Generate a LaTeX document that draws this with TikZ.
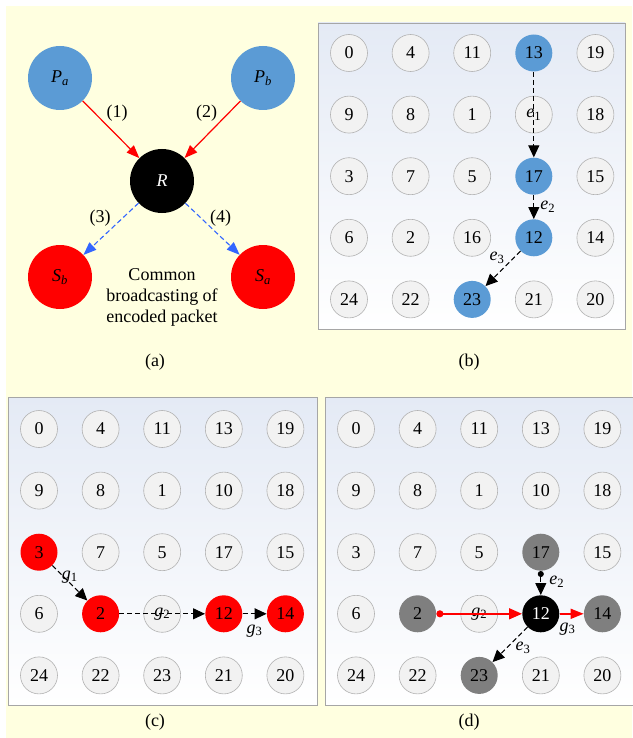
\documentclass[tikz,border=0pt]{standalone}
\usepackage{fontspec}
\setmainfont{Liberation Serif}
\usepackage{tikz}
\usetikzlibrary{shapes, arrows.meta, positioning}

\definecolor{paper}{HTML}{FFFFE0}
\definecolor{nodeblue}{HTML}{5B9BD5}
\definecolor{linkblue}{HTML}{3366FF}
\definecolor{lightcell}{HTML}{F2F2F2}
\definecolor{darkcell}{HTML}{7F7F7F}
\definecolor{panelblue}{HTML}{E4EAF5}
\definecolor{framegray}{HTML}{A6A6A6}

\newcommand{\linklab}[2]{\textit{#1}\textsubscript{#2}}

\begin{document}
\begin{tikzpicture}[x=1pt, y=-1pt,
  font=\fontsize{18}{21}\selectfont,
  station/.style={circle, minimum size=64pt, inner sep=0pt},
  cell/.style={circle, draw=gray!60, line width=0.6pt, fill=lightcell,
               minimum size=37pt, inner sep=0pt},
  bluecell/.style={cell, draw=none, fill=nodeblue},
  redcell/.style={cell, draw=none, fill=red},
  greycell/.style={cell, draw=none, fill=darkcell},
  relaycell/.style={cell, draw=none, fill=black, text=white},
  panel/.style={draw=framegray, line width=0.8pt,
                top color=panelblue, bottom color=white},
  send/.style={red, text=black, line width=1.2pt,
               -{Triangle[length=13pt, width=10pt]}},
  cast/.style={linkblue, text=black, dash pattern=on 5pt off 3pt, line width=1.1pt,
               -{Triangle[length=13pt, width=10pt]}},
  hop/.style={dash pattern=on 5pt off 3pt, line width=1pt,
              -{Triangle[length=12pt, width=11pt]}}
]
  \useasboundingbox (0,0) rectangle (632,738);
  \fill[paper] (6,6) rectangle (632,738);

  % (a) two-way relay
  \node[station, fill=nodeblue] (pa) at (60,78) {\linklab{P}{\textit{a}}};
  \node[station, fill=nodeblue] (pb) at (263,78) {\linklab{P}{\textit{b}}};
  \node[station, fill=black, text=white] (r) at (162,181) {\textit{R}};
  \node[station, fill=red] (sb) at (60,277) {\linklab{S}{\textit{b}}};
  \node[station, fill=red] (sa) at (263,277) {\linklab{S}{\textit{a}}};
  \node[align=center] (common) at (162,297) {
    Common\\
    broadcasting of\\
    encoded packet
  };
  \draw[send] (pa) -- (r) node[midway, xshift=6pt, yshift=16pt] {(1)};
  \draw[send] (pb) -- (r) node[midway, xshift=-6pt, yshift=16pt] {(2)};
  \draw[cast] (r) -- (sb) node[midway, xshift=-11pt, yshift=11pt] {(3)};
  \draw[cast] (r) -- (sa) node[midway, xshift=8pt, yshift=11pt] {(4)};
  \node (capa) at (155,362) {(a)};

  % (b) path e1 e2 e3
  \draw[panel] (318,23) rectangle (625,329);
  \foreach \lbl/\sty [count=\i from 0] in {
      0/cell, 4/cell, 11/cell, 13/bluecell, 19/cell,
      9/cell, 8/cell, 1/cell, \linklab{e}{1}/cell, 18/cell,
      3/cell, 7/cell, 5/cell, 17/bluecell, 15/cell,
      6/cell, 2/cell, 16/cell, 12/bluecell, 14/cell,
      24/cell, 22/cell, 23/bluecell, 21/cell, 20/cell} {
    \pgfmathtruncatemacro{\row}{div(\i,5)}
    \pgfmathtruncatemacro{\col}{mod(\i,5)}
    \node[\sty] (b\row\col) at (349+61.6*\col, 53+61.6*\row) {\lbl};
  }
  \draw[hop] (b03) -- (b23);
  \draw[hop] (b23) -- (b33) node[midway, xshift=14pt] {\linklab{e}{2}};
  \draw[hop] (b33) -- (b42) node[midway, xshift=-6pt, yshift=11pt] {\linklab{e}{3}};
  \node (capb) at (469,362) {(b)};

  % (c) path g1 g2 g3
  \draw[panel] (8,397) rectangle (317,705);
  \foreach \lbl/\sty [count=\i from 0] in {
      0/cell, 4/cell, 11/cell, 13/cell, 19/cell,
      9/cell, 8/cell, 1/cell, 10/cell, 18/cell,
      3/redcell, 7/cell, 5/cell, 17/cell, 15/cell,
      6/cell, 2/redcell, \linklab{g}{2}/cell, 12/redcell, 14/redcell,
      24/cell, 22/cell, 23/cell, 21/cell, 20/cell} {
    \pgfmathtruncatemacro{\row}{div(\i,5)}
    \pgfmathtruncatemacro{\col}{mod(\i,5)}
    \node[\sty] (c\row\col) at (39+61.6*\col, 429+61.6*\row) {\lbl};
  }
  \draw[hop] (c20) -- (c31) node[midway, yshift=6pt] {\linklab{g}{1}};
  \draw[hop] (c31) -- (c33);
  \draw[hop] (c33) -- (c34) node[midway, yshift=-17pt] {\linklab{g}{3}};
  \node (capc) at (155,722) {(c)};

  % (d) crossing at node 12
  \draw[panel] (325,397) rectangle (634,705);
  \foreach \lbl/\sty [count=\i from 0] in {
      0/cell, 4/cell, 11/cell, 13/cell, 19/cell,
      9/cell, 8/cell, 1/cell, 10/cell, 18/cell,
      3/cell, 7/cell, 5/cell, 17/greycell, 15/cell,
      6/cell, 2/greycell, \linklab{g}{2}/cell, 12/relaycell, 14/greycell,
      24/cell, 22/cell, 23/greycell, 21/cell, 20/cell} {
    \pgfmathtruncatemacro{\row}{div(\i,5)}
    \pgfmathtruncatemacro{\col}{mod(\i,5)}
    \node[\sty] (d\row\col) at (356+61.6*\col, 429+61.6*\row) {\lbl};
  }
  \draw[hop, {Circle[length=6pt]}-{Triangle[length=12pt, width=11pt]}] (d23) -- (d33)
    node[midway, xshift=16pt, yshift=1pt] {\linklab{e}{2}};
  \draw[send, line width=1.6pt, {Circle[length=7pt]}-{Triangle[length=13pt, width=11pt]}]
    (d31) -- (d33);
  \draw[send, line width=1.6pt] (d33) -- (d34)
    node[midway, xshift=-4pt, yshift=-15pt] {\linklab{g}{3}};
  \draw[hop] (d33) -- (d42) node[midway, xshift=13pt, yshift=-3pt] {\linklab{e}{3}};
  \node (capd) at (469,722) {(d)};
\end{tikzpicture}
\end{document}
